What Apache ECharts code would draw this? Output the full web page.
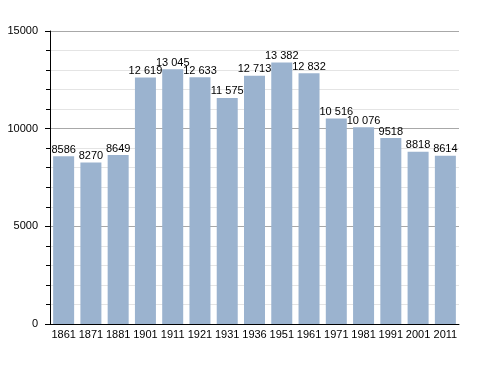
<!DOCTYPE html>
<html><head><meta charset="utf-8">
<script src="https://cdn.jsdelivr.net/npm/echarts@6/dist/echarts.min.js"></script>
<style>html,body{margin:0;padding:0;background:#fff}#c{width:488px;height:373px}</style>
</head><body><div id="c"></div>
<script>
var years = ['1861','1871','1881','1901','1911','1921','1931','1936','1951','1961','1971','1981','1991','2001','2011'];
var population = [8586, 8270, 8649, 12619, 13045, 12633, 11575, 12713, 13382, 12832, 10516, 10076, 9518, 8818, 8614];
var yTicks = [0, 5000, 10000, 15000];

function fmt(v){ return v >= 10000 ? String(v).replace(/\B(?=(\d{3})+(?!\d))/g, ' ') : String(v); }

var chart = echarts.init(document.getElementById('c'));
chart.setOption({
  animation: false,
  backgroundColor: '#fff',
  grid: {left: 50, right: 29, top: 31, bottom: 49},
  xAxis: {
    type: 'category', data: years,
    axisLine: {lineStyle: {color: '#000', width: 1}},
    axisTick: {show: false},
    axisLabel: {color: '#000', fontFamily: 'Liberation Sans', fontSize: 11, margin: 5, interval: 0}
  },
  yAxis: {
    type: 'value', min: yTicks[0], max: yTicks[yTicks.length-1], interval: 5000,
    axisLine: {show: true, lineStyle: {color: '#000', width: 1}},
    axisTick: {show: true, length: 5, lineStyle: {color: '#000'}},
    minorTick: {show: true, splitNumber: 5, length: 4, lineStyle: {color: '#000'}},
    axisLabel: {color: '#000', fontFamily: 'Liberation Sans', fontSize: 11, margin: 12, formatter: function(v){ return String(v); }},
    splitLine: {show: true, lineStyle: {color: '#a8a8a8', width: 1}},
    minorSplitLine: {show: true, lineStyle: {color: '#e4e4e4', width: 1}}
  },
  series: [{
    type: 'bar', data: population, barWidth: 21,
    itemStyle: {color: '#9bb3cf'},
    label: {show: true, position: 'top', distance: 1, color: '#000', fontFamily: 'Liberation Sans', fontSize: 11, formatter: function(p){ return fmt(p.value); }}
  }]
});
</script></body></html>
